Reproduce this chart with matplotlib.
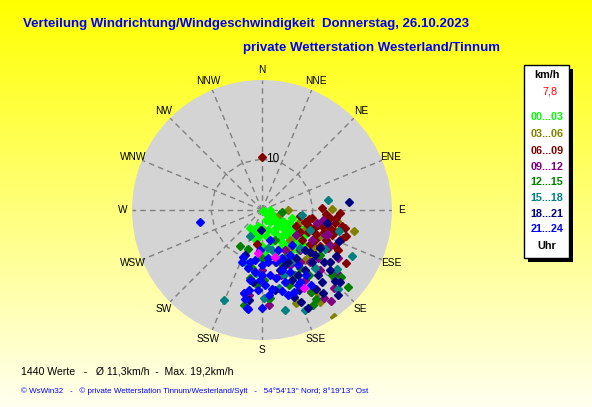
import numpy as np
import matplotlib
matplotlib.use("Agg")
import matplotlib.pyplot as plt
from matplotlib.patches import Rectangle

plt.rcParams["font.family"] = ["Liberation Sans", "DejaVu Sans"]

# Wind direction (deg, 0 = N, clockwise) and speed (km/h), grouped by hour band
lime_dir = [160, 124, 130, 112, 117, 117, 119, 118, 131, 133, 146, 158, 194, 198, 185, 163, 151, 142,
            128, 120, 124, 133, 145, 155, 163, 180, 191, 130, 138, 146, 177, 163, 108, 105, 113, 214,
            90, 130, 130, 118, 149, 171, 135, 122, 180, 135, 142, 117]
lime_spd = [0.3, 0.7, 1.5, 2.1, 3.1, 3.9, 4.9, 5.8, 5.4, 4.3, 2.8, 2.1, 3.2, 4.5, 4.9, 4.1, 5.2, 6.4,
            7.0, 7.7, 9.0, 8.6, 8.2, 8.2, 6.6, 7.1, 6.0, 10.4, 10.5, 9.9, 8.2, 9.4, 7.6, 6.1, 9.1, 4.2,
            1.6, 3.1, 6.1, 6.7, 6.9, 5.2, 9.4, 9.7, 3.5, 7.2, 4.5, 7.9]

olive_dir = [90, 89, 103, 98, 107, 120, 160, 148, 146, 159, 146, 108, 103, 114, 137, 133, 127, 166,
             104, 115, 147, 103, 126, 139, 144]
olive_spd = [5.1, 13.7, 18.6, 14.8, 14.4, 11.6, 19.4, 21.3, 25.3, 19.3, 19.6, 7.8, 3.6, 12.5, 8.0,
             12.9, 16.8, 10.5, 15.8, 9.3, 11.8, 12.7, 12.8, 12.9, 9.3]

maroon_dir = [99, 106, 99, 105, 99, 105, 96, 101, 107, 111, 110, 110, 114, 116, 127, 125, 122, 120,
              118, 88, 101, 100, 109, 92, 122, 149, 188, 0, 115, 109, 115, 107,
              97, 105, 120, 102, 120, 116, 94, 108]
maroon_spd = [7.5, 8.7, 9.9, 11.4, 12.5, 13.8, 14.6, 16.0, 17.2, 16.4, 14.6, 12.9, 11.6, 10.0, 9.8,
              11.5, 13.4, 14.9, 16.8, 11.8, 9.4, 14.5, 16.8, 15.3, 19.5, 18.8, 6.7, 10.4, 7.4, 10.8,
              13.9, 15.0, 13.4, 12.2, 11.9, 16.7, 8.6, 15.9, 12.6, 9.5]

purple_dir = [99, 103, 110, 122, 130, 137, 192, 176, 189, 143, 145, 136, 153, 137, 164, 136, 148,
              117, 180, 121, 126, 131, 144, 150, 112]
purple_spd = [12.1, 11.1, 13.8, 17.6, 19.1, 20.8, 16.6, 18.7, 16.9, 22.4, 21.1, 10.8, 12.1, 13.9,
              13.2, 16.4, 16.1, 15.0, 11.8, 11.4, 8.3, 14.5, 12.6, 9.0, 13.3]

green_dir = [211, 200, 190, 184, 191, 176, 149, 149, 133, 132, 130, 96, 190, 175, 152, 157, 154,
             147, 178, 128, 153, 180, 160, 144, 161]
green_spd = [8.3, 8.1, 11.5, 14.7, 19.0, 17.3, 18.7, 20.4, 18.7, 22.6, 20.3, 3.9, 13.5, 17.3, 21.1,
             6.4, 10.4, 13.6, 13.7, 14.4, 14.3, 9.4, 15.7, 15.8, 10.8]

teal_dir = [81, 97, 105, 117, 128, 203, 157, 167, 179, 136, 185, 205, 152, 138, 166, 113, 198, 168,
            135, 161, 122, 171]
teal_spd = [13.1, 7.9, 15.6, 19.8, 18.7, 19.2, 21.4, 20.1, 17.3, 21.5, 12.4, 5.6, 11.6, 15.4, 8.1,
            10.2, 10.7, 15.6, 10.5, 13.5, 14.6, 7.5]

navy_dir = [85, 112, 101, 183, 187, 160, 144, 134, 138, 157, 155, 133, 130, 130, 139, 144, 157, 157,
            131, 155, 136, 145, 123, 122, 133, 171, 201, 188, 131, 151, 140, 153, 146, 163, 127]
navy_spd = [17.1, 16.3, 13.0, 3.9, 14.2, 18.1, 20.2, 20.0, 22.4, 19.7, 21.2, 11.5, 13.6, 16.0, 16.8,
            14.5, 14.9, 11.7, 17.8, 17.4, 14.1, 11.5, 13.6, 17.1, 20.8, 15.9, 9.4, 17.8, 12.5, 14.6,
            18.4, 11.4, 18.8, 12.3, 16.8]

blue_dir = [259, 202, 193, 189, 180, 191, 201, 192, 188, 173, 166, 154, 183, 173, 165, 180, 186, 173,
            162, 148, 147, 162, 178, 158, 190, 146, 139, 165, 183, 163, 147, 188,
            173, 168, 180, 194, 156, 152, 157, 189, 175, 159, 182]
blue_spd = [12.4, 9.9, 10.5, 19.4, 19.2, 17.8, 10.9, 16.7, 19.6, 15.6, 16.4, 16.3, 7.9, 9.5, 10.6,
            10.8, 12.2, 12.8, 12.4, 10.4, 12.9, 14.8, 14.7, 8.4, 13.9, 15.4, 9.0, 6.1, 15.7, 17.4,
            17.5, 9.9, 10.3, 13.6, 12.7, 11.7, 13.3, 16.0, 10.2, 15.9, 16.7, 17.3, 13.7]

magenta_dir = [185, 152, 164]
magenta_spd = [8.5, 17.4, 9.6]

bands = ["00...03", "03...06", "06...09", "09...12", "12...15", "15...18", "18...21", "21...24"]
band_colors = ["#00ff00", "#808000", "#800000", "#800080", "#008000", "#008080", "#000080", "#0000ff"]
band_data = [(lime_dir, lime_spd), (olive_dir, olive_spd), (maroon_dir, maroon_spd),
             (purple_dir, purple_spd), (green_dir, green_spd), (teal_dir, teal_spd),
             (navy_dir, navy_spd), (blue_dir, blue_spd)]

directions = ["N", "NNE", "NE", "ENE", "E", "ESE", "SE", "SSE",
              "S", "SSW", "SW", "WSW", "W", "WNW", "NW", "NNW"]

RMAX = 25.5
W, H = 592, 407

fig = plt.figure(figsize=(W / 100, H / 100), dpi=100)

# yellow gradient background
bg = fig.add_axes([0, 0, 1, 1])
bg.axis("off")
g = np.linspace(0, 0.94, 256)
img = np.ones((256, 1, 3))
img[:, 0, 2] = g
bg.imshow(img, aspect="auto", extent=[0, 1, 0, 1])

# polar plot
ax = fig.add_axes([132 / W, 67 / H, 260 / W, 260 / H], projection="polar")
ax.set_theta_zero_location("N")
ax.set_theta_direction(-1)
ax.set_ylim(0, RMAX)
ax.set_facecolor("#d4d4d4")
ax.spines["polar"].set_visible(False)
ax.grid(False)
ax.set_xticks([])
ax.set_yticks([])

angles = np.deg2rad(np.arange(16) * 22.5)
for th in angles:
    ax.plot([th, th], [0, RMAX], ls=(0, (4, 3)), color="#808080", lw=1)
ring = np.append(angles, angles[0])
ax.plot(ring, [10] * len(ring), ls=(0, (4, 3)), color="#808080", lw=1)
ax.annotate("10", xy=(0, 10), xytext=(3, 0), textcoords="offset points",
            va="center", ha="left", fontsize=8.5)

for th, lab in zip(angles, directions):
    ax.text(th, 27.4, lab, ha="center", va="center", fontsize=7.3, clip_on=False)

for (d, s), c in zip(band_data, band_colors):
    ax.plot(np.deg2rad(d), s, "D", ms=3.8, color=c, mec=c, ls="none")
ax.plot(np.deg2rad(magenta_dir), magenta_spd, "D", ms=3.8, color="#ff00ff", ls="none")

# titles
fig.text(23 / W, 1 - 24 / H, "Verteilung Windrichtung/Windgeschwindigkeit  Donnerstag, 26.10.2023",
         color="#0000ff", fontsize=9.5, fontweight="bold", va="center")
fig.text(243 / W, 1 - 48 / H, "private Wetterstation Westerland/Tinnum",
         color="#0000ff", fontsize=9.5, fontweight="bold", va="center")

# legend box
fig.add_artist(Rectangle((528 / W, 1 - 262 / H), 45 / W, 193 / H, fc="black", ec="none"))
fig.add_artist(Rectangle((524 / W, 1 - 258 / H), 45 / W, 193 / H, fc="white", ec="black", lw=1))
fig.text(547 / W, 1 - 75 / H, "km/h", ha="center", va="center", fontsize=7.8, fontweight="bold")
fig.text(550 / W, 1 - 92 / H, "7,8", ha="center", va="center", fontsize=7.8, color="#ff0000")
ys = [117, 134, 151, 167, 182, 198, 214, 229]
for lab, c, y in zip(bands, band_colors, ys):
    fig.text(547 / W, 1 - y / H, lab, ha="center", va="center", fontsize=7.8,
             fontweight="bold", color=c)
fig.text(547 / W, 1 - 246 / H, "Uhr", ha="center", va="center", fontsize=7.8, fontweight="bold")

# footer
fig.text(21 / W, 1 - 372 / H, "1440 Werte   -   Ø 11,3km/h  -  Max. 19,2km/h",
         fontsize=7.6, va="center")
fig.text(21 / W, 1 - 391 / H,
         "© WsWin32   -   © private Wetterstation Tinnum/Westerland/Sylt   -   54°54'13'' Nord; 8°19'13'' Ost",
         fontsize=5.8, va="center", color="#0000ff")

fig.savefig("out.png", dpi=100)
